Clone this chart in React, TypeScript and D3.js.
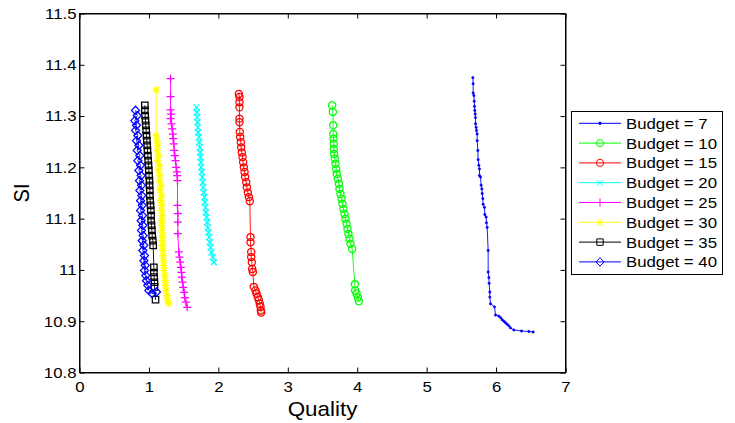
import React, { useRef, useEffect } from 'react';
import * as d3 from 'd3';

// [quality, SI] pairs
const budget7: [number, number][] = [
  [5.665, 11.375], [5.670, 11.363], [5.670, 11.345], [5.680, 11.340], [5.685, 11.329], [5.689, 11.319],
  [5.694, 11.311], [5.699, 11.304], [5.704, 11.297], [5.704, 11.285], [5.713, 11.278], [5.718, 11.272],
  [5.728, 11.265], [5.728, 11.252], [5.737, 11.233], [5.742, 11.215], [5.752, 11.204], [5.761, 11.197],
  [5.761, 11.184], [5.776, 11.181], [5.785, 11.165], [5.795, 11.158], [5.800, 11.149], [5.809, 11.139],
  [5.814, 11.128], [5.833, 11.122], [5.838, 11.108], [5.857, 11.103], [5.862, 11.092], [5.872, 11.083],
  [5.886, 11.038], [5.886, 10.996], [5.896, 10.985], [5.900, 10.974], [5.910, 10.957], [5.910, 10.947],
  [5.920, 10.934], [5.977, 10.928], [5.992, 10.912], [6.040, 10.910], [6.064, 10.907], [6.088, 10.903],
  [6.112, 10.900], [6.136, 10.897], [6.160, 10.894], [6.184, 10.891], [6.208, 10.887], [6.256, 10.883],
  [6.366, 10.881], [6.472, 10.880], [6.534, 10.879],
];
const budget10: [number, number][] = [
  [3.639, 11.321], [3.649, 11.308], [3.654, 11.282], [3.654, 11.265], [3.658, 11.256], [3.663, 11.246],
  [3.663, 11.236], [3.668, 11.226], [3.678, 11.217], [3.687, 11.207], [3.697, 11.197], [3.706, 11.187],
  [3.721, 11.178], [3.735, 11.168], [3.745, 11.158], [3.759, 11.148], [3.774, 11.139], [3.788, 11.129],
  [3.802, 11.119], [3.817, 11.109], [3.831, 11.100], [3.846, 11.090], [3.860, 11.080], [3.874, 11.070],
  [3.889, 11.061], [3.903, 11.051], [3.927, 11.041], [3.966, 10.972], [3.970, 10.960], [3.990, 10.954],
  [4.009, 10.946], [4.023, 10.939],
];
const budget15: [number, number][] = [
  [2.295, 11.343], [2.304, 11.337], [2.304, 11.327], [2.304, 11.317], [2.304, 11.295], [2.304, 11.288],
  [2.309, 11.269], [2.314, 11.259], [2.324, 11.249], [2.328, 11.239], [2.338, 11.229], [2.348, 11.220],
  [2.357, 11.210], [2.367, 11.200], [2.377, 11.191], [2.386, 11.181], [2.401, 11.171], [2.410, 11.161],
  [2.425, 11.151], [2.439, 11.142], [2.453, 11.134], [2.463, 11.064], [2.463, 11.054], [2.473, 11.035],
  [2.473, 11.025], [2.482, 11.015], [2.487, 11.002], [2.497, 10.996], [2.511, 10.967], [2.535, 10.960],
  [2.549, 10.954], [2.568, 10.947], [2.583, 10.941], [2.597, 10.934], [2.607, 10.928], [2.612, 10.921],
  [2.617, 10.917],
];
const budget20: [number, number][] = [
  [1.685, 11.317], [1.690, 11.307], [1.695, 11.298], [1.700, 11.288], [1.704, 11.278], [1.709, 11.268],
  [1.719, 11.259], [1.724, 11.249], [1.733, 11.239], [1.738, 11.229], [1.743, 11.220], [1.748, 11.210],
  [1.752, 11.200], [1.762, 11.191], [1.767, 11.181], [1.776, 11.171], [1.781, 11.161], [1.791, 11.151],
  [1.800, 11.142], [1.805, 11.132], [1.815, 11.122], [1.820, 11.112], [1.829, 11.103], [1.839, 11.093],
  [1.848, 11.083], [1.858, 11.073], [1.868, 11.064], [1.877, 11.054], [1.887, 11.044], [1.901, 11.034],
  [1.920, 11.025], [1.935, 11.015],
];
const budget25: [number, number][] = [
  [1.311, 11.373], [1.311, 11.338], [1.311, 11.312], [1.320, 11.304], [1.311, 11.295], [1.325, 11.285],
  [1.335, 11.275], [1.344, 11.265], [1.349, 11.256], [1.359, 11.246], [1.364, 11.233], [1.373, 11.223],
  [1.383, 11.213], [1.392, 11.200], [1.402, 11.191], [1.407, 11.184], [1.411, 11.174], [1.411, 11.126],
  [1.416, 11.110], [1.416, 11.093], [1.416, 11.071], [1.431, 11.035], [1.440, 11.025], [1.450, 11.015],
  [1.460, 11.005], [1.469, 10.995], [1.474, 10.986], [1.484, 10.976], [1.493, 10.966], [1.508, 10.956],
  [1.517, 10.946], [1.532, 10.937], [1.551, 10.927],
];
const budget30: [number, number][] = [
  [1.104, 11.351], [1.104, 11.262], [1.114, 11.252], [1.128, 11.243], [1.119, 11.233], [1.138, 11.223],
  [1.128, 11.213], [1.147, 11.204], [1.138, 11.194], [1.157, 11.184], [1.152, 11.174], [1.171, 11.165],
  [1.162, 11.155], [1.181, 11.145], [1.171, 11.135], [1.186, 11.126], [1.181, 11.116], [1.191, 11.106],
  [1.186, 11.096], [1.191, 11.087], [1.191, 11.077], [1.195, 11.067], [1.195, 11.057], [1.195, 11.048],
  [1.200, 11.038], [1.205, 11.028], [1.210, 11.018], [1.215, 11.009], [1.219, 10.999], [1.229, 10.989],
  [1.234, 10.979], [1.239, 10.970], [1.248, 10.960], [1.258, 10.950], [1.272, 10.940], [1.287, 10.935],
];
const budget35: [number, number][] = [
  [0.941, 11.321], [0.941, 11.311], [0.946, 11.301], [0.951, 11.291], [0.955, 11.282], [0.960, 11.272],
  [0.965, 11.262], [0.970, 11.252], [0.975, 11.243], [0.979, 11.233], [0.984, 11.223], [0.989, 11.213],
  [0.994, 11.204], [0.999, 11.194], [1.003, 11.184], [1.008, 11.174], [1.008, 11.165], [1.013, 11.155],
  [1.013, 11.145], [1.018, 11.135], [1.023, 11.126], [1.027, 11.116], [1.032, 11.106], [1.032, 11.096],
  [1.037, 11.087], [1.042, 11.077], [1.047, 11.067], [1.056, 11.057], [1.061, 11.048], [1.071, 11.005],
  [1.071, 10.995], [1.075, 10.986], [1.080, 10.976], [1.080, 10.967], [1.095, 10.942],
];
const budget40: [number, number][] = [
  [0.807, 11.311], [0.831, 11.301], [0.797, 11.291], [0.821, 11.282], [0.807, 11.272], [0.840, 11.262],
  [0.821, 11.252], [0.855, 11.243], [0.831, 11.233], [0.869, 11.223], [0.840, 11.213], [0.879, 11.204],
  [0.855, 11.194], [0.888, 11.184], [0.864, 11.174], [0.893, 11.165], [0.869, 11.155], [0.898, 11.145],
  [0.879, 11.135], [0.903, 11.126], [0.879, 11.116], [0.907, 11.106], [0.888, 11.096], [0.912, 11.087],
  [0.893, 11.077], [0.917, 11.067], [0.903, 11.057], [0.927, 11.048], [0.912, 11.038], [0.936, 11.028],
  [0.927, 11.018], [0.946, 11.009], [0.936, 10.999], [0.955, 10.989], [0.965, 10.979], [0.984, 10.970],
  [0.999, 10.960], [1.047, 10.954], [1.109, 10.957],
];

const seriesData = [budget7, budget10, budget15, budget20, budget25, budget30, budget35, budget40];
const seriesNames = ['Budget = 7', 'Budget = 10', 'Budget = 15', 'Budget = 20', 'Budget = 25', 'Budget = 30', 'Budget = 35', 'Budget = 40'];
const seriesColors = ['#0000ff', '#00ff00', '#ff0000', '#00ffff', '#ff00ff', '#ffff00', '#000000', '#0000ff'];
const seriesMarkers = ['dot', 'circle', 'circle', 'times', 'plus', 'star', 'square', 'diamond'];
const xTicks = [0, 1, 2, 3, 4, 5, 6, 7];
const yTicks = [10.8, 10.9, 11, 11.1, 11.2, 11.3, 11.4, 11.5];

const FONT = '"Liberation Sans", Arial, Helvetica, sans-serif';
const STRETCH = 1.12; // the picture is a bit wider than the text's own shape

function markerPath(kind: string): string {
  const p = d3.path();
  if (kind === 'circle') {
    p.moveTo(3.6, 0);
    p.arc(0, 0, 3.6, 0, Math.PI * 2);
  } else if (kind === 'square') {
    p.rect(-3.2, -3.2, 6.4, 6.4);
  } else if (kind === 'diamond') {
    p.moveTo(0, -4.2); p.lineTo(4, 0); p.lineTo(0, 4.2); p.lineTo(-4, 0); p.closePath();
  } else if (kind === 'plus') {
    p.moveTo(-4, 0); p.lineTo(4, 0); p.moveTo(0, -4); p.lineTo(0, 4);
  } else if (kind === 'times') {
    p.moveTo(-3, -3); p.lineTo(3, 3); p.moveTo(-3, 3); p.lineTo(3, -3);
  } else if (kind === 'star') {
    p.moveTo(-3.8, 0); p.lineTo(3.8, 0); p.moveTo(0, -3.8); p.lineTo(0, 3.8);
    p.moveTo(-2.7, -2.7); p.lineTo(2.7, 2.7); p.moveTo(-2.7, 2.7); p.lineTo(2.7, -2.7);
  } else {
    p.moveTo(1.2, 0);
    p.arc(0, 0, 1.2, 0, Math.PI * 2);
  }
  return p.toString();
}

const ChartSvg = () => {
  const svgRef = useRef<SVGSVGElement>(null);

  useEffect(() => {
    const svg = d3.select(svgRef.current);
    svg.selectAll('*').remove();

    const left = 79.5, right = 565.5, top = 13.5, bottom = 372.5;
    const x = d3.scaleLinear().domain([0, 7]).range([left, right]);
    const y = d3.scaleLinear().domain([10.8, 11.5]).range([bottom, top]);
    const fmt = (d: number) => String(+d.toFixed(1));

    svg.append('rect').attr('x', 0).attr('y', 0).attr('width', 735).attr('height', 423).attr('fill', '#fff');

    // axes with inward ticks on all four sides
    const gx = svg.append('g').attr('transform', `translate(0,${bottom})`)
      .call(d3.axisBottom(x).tickValues(xTicks).tickSizeInner(-5).tickSizeOuter(0).tickPadding(9).tickFormat(d => fmt(+d)));
    const gy = svg.append('g').attr('transform', `translate(${left},0)`)
      .call(d3.axisLeft(y).tickValues(yTicks).tickSizeInner(-5).tickSizeOuter(0).tickPadding(3).tickFormat(d => fmt(+d)));
    svg.append('g').attr('transform', `translate(0,${top})`)
      .call(d3.axisTop(x).tickValues(xTicks).tickSizeInner(-5).tickSizeOuter(0).tickFormat(() => ''));
    svg.append('g').attr('transform', `translate(${right},0)`)
      .call(d3.axisRight(y).tickValues(yTicks).tickSizeInner(-5).tickSizeOuter(0).tickFormat(() => ''));

    svg.selectAll('.domain').attr('stroke', '#000');
    svg.selectAll('.tick line').attr('stroke', '#000');
    gx.selectAll('text').attr('font-family', FONT).attr('font-size', 15).attr('fill', '#000')
      .attr('transform', `scale(${STRETCH},1)`);
    gy.selectAll('text').attr('font-family', FONT).attr('font-size', 15).attr('fill', '#000')
      .attr('x', -3 / STRETCH).attr('transform', `scale(${STRETCH},1)`);

    svg.append('rect').attr('x', left).attr('y', top).attr('width', right - left).attr('height', bottom - top)
      .attr('fill', 'none').attr('stroke', '#000');

    // series, drawn in legend order so Budget = 40 ends on top
    const line = d3.line<[number, number]>().x(d => x(d[0])).y(d => y(d[1]));
    seriesData.forEach((data, i) => {
      const g = svg.append('g');
      g.append('path').attr('d', line(data)).attr('fill', 'none')
        .attr('stroke', seriesColors[i]).attr('stroke-width', 0.9);
      const filled = seriesMarkers[i] === 'dot';
      g.selectAll('path.m').data(data).enter().append('path').attr('class', 'm')
        .attr('transform', d => `translate(${x(d[0])},${y(d[1])})`)
        .attr('d', markerPath(seriesMarkers[i]))
        .attr('fill', filled ? seriesColors[i] : 'none')
        .attr('stroke', seriesColors[i]).attr('stroke-width', filled ? 0.5 : 1.25);
    });

    // axis labels
    svg.append('text').attr('transform', `translate(${(left + right) / 2},416) scale(${STRETCH},1)`)
      .attr('text-anchor', 'middle').attr('font-family', FONT).attr('font-size', 20).text('Quality');
    svg.append('text').attr('transform', `translate(29,193) rotate(-90) scale(1,${STRETCH})`)
      .attr('text-anchor', 'middle').attr('font-family', FONT).attr('font-size', 20).text('SI');

    // legend
    const lg = svg.append('g');
    lg.append('rect').attr('x', 571.5).attr('y', 111.5).attr('width', 151).attr('height', 163)
      .attr('fill', '#fff').attr('stroke', '#000');
    seriesNames.forEach((name, i) => {
      const ry = 123.3 + i * 19.8;
      lg.append('line').attr('x1', 579).attr('x2', 621).attr('y1', ry).attr('y2', ry)
        .attr('stroke', seriesColors[i]).attr('stroke-width', 1);
      const filled = seriesMarkers[i] === 'dot';
      lg.append('path').attr('transform', `translate(600,${ry})`).attr('d', markerPath(seriesMarkers[i]))
        .attr('fill', filled ? seriesColors[i] : 'none').attr('stroke', seriesColors[i]).attr('stroke-width', 1);
      lg.append('text').attr('transform', `translate(626,${ry}) scale(${STRETCH},1)`)
        .attr('dy', '0.36em').attr('font-family', FONT).attr('font-size', 15).text(name);
    });
  }, []);

  return <svg ref={svgRef} width={735} height={423} style={{ position: 'absolute', left: 0, top: 0 }} />;
};

export default function App() {
  return (
    <div>
      <ChartSvg />
    </div>
  );
}
